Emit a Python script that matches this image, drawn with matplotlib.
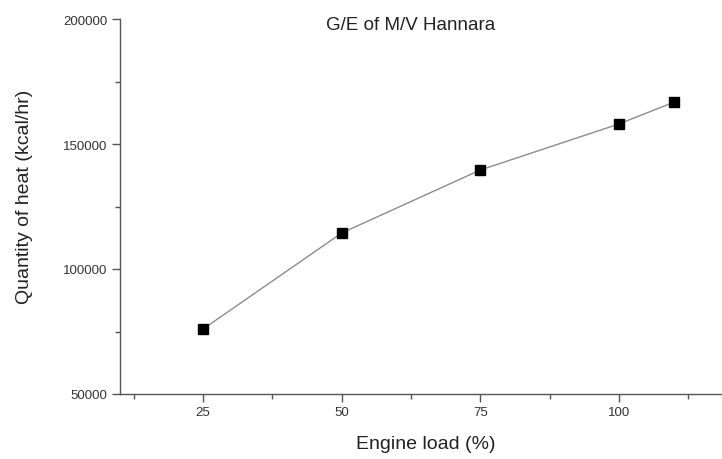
import matplotlib
matplotlib.use("Agg")
import matplotlib.pyplot as plt
from matplotlib.ticker import MultipleLocator

# ============================================
# DATA
# ============================================

engine_load = [25, 50, 75, 100, 110]
heat_quantity = [76000, 114400, 139600, 158000, 166800]

y_ticks = [50000, 100000, 150000, 200000]
x_ticks = [25, 50, 75, 100]

plt.rcParams['font.family'] = ['Liberation Sans', 'DejaVu Sans']

# ============================================
# PLOT
# ============================================

fig = plt.figure(figsize=(7.22, 4.6), dpi=100)
ax = fig.add_axes([120 / 722, 65 / 460, 602 / 722, 375 / 460])

ax.plot(engine_load, heat_quantity, color='#8c8c8c', linewidth=1.0,
        marker='s', markersize=7.5, markerfacecolor='black',
        markeredgecolor='black', zorder=3)

ax.set_xlim(10, 118.6)
ax.set_ylim(50000, 200000)

ax.set_xticks(x_ticks)
ax.set_yticks(y_ticks)
ax.xaxis.set_minor_locator(MultipleLocator(12.5))
ax.yaxis.set_minor_locator(MultipleLocator(25000))

for side in ['top', 'right']:
    ax.spines[side].set_visible(False)
for side in ['left', 'bottom']:
    ax.spines[side].set_color('#555555')
    ax.spines[side].set_linewidth(1.0)

ax.tick_params(which='major', direction='out', length=6, width=1.0,
               color='#555555', labelsize=9.5, labelcolor='#333333', pad=3)
ax.tick_params(which='minor', direction='out', length=3.5, width=1.0,
               color='#555555')

ax.set_xlabel('Engine load (%)', fontsize=14, color='#222222')
ax.set_ylabel('Quantity of heat (kcal/hr)', fontsize=14, color='#222222')
ax.xaxis.set_label_coords(0.508, -0.11)
ax.yaxis.set_label_coords(-0.1445, 0.527)

ax.text(0.482, 0.985, 'G/E of M/V Hannara', transform=ax.transAxes,
        ha='center', va='center', fontsize=13.5, color='#222222')

plt.savefig('out.png', dpi=100)
